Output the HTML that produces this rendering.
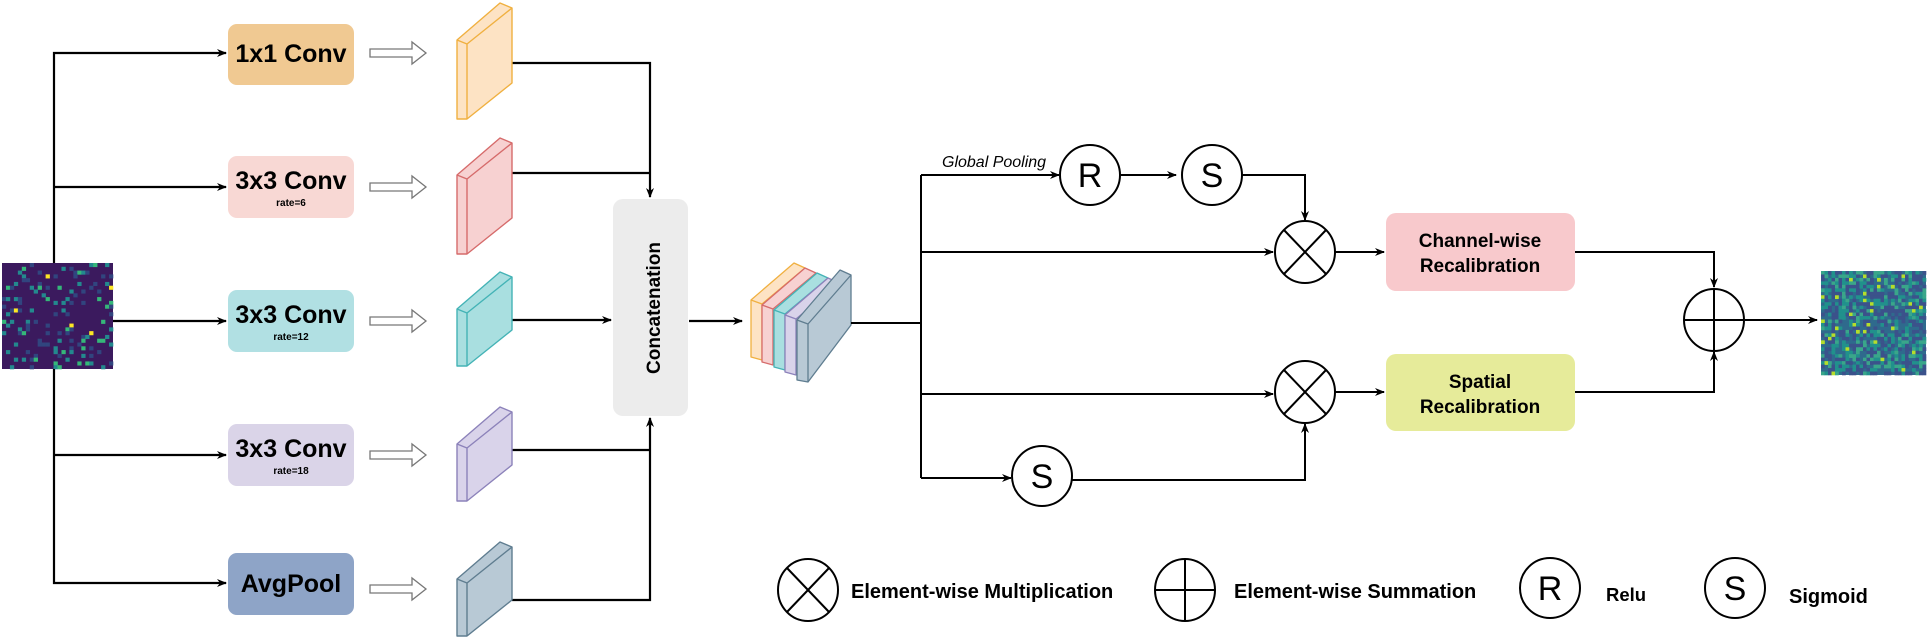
<!DOCTYPE html>
<html><head><meta charset="utf-8"><style>
html,body{margin:0;padding:0;background:#fff;}
svg{display:block;font-family:"Liberation Sans",Arial,sans-serif;}
</style></head><body>
<svg id="s" width="1930" height="642" viewBox="0 0 1930 642" xmlns="http://www.w3.org/2000/svg">
<defs>
<marker id="a" markerWidth="10" markerHeight="10" refX="9" refY="5" orient="auto" markerUnits="userSpaceOnUse"><path d="M0,1 L10,5 L0,9 L3,5 z" fill="#000"/></marker>
</defs>
<g id="inimg"><rect x="2" y="263" width="111" height="106" fill="#3b1a5e"/></g>
<g id="outimg"><rect x="1821" y="271" width="105" height="104" fill="#2f6a8d"/></g>

<g stroke="#000" stroke-width="2.2" fill="none">
<path d="M54,263 V53 H226" marker-end="url(#a)"/>
<path d="M54,187 H226" marker-end="url(#a)"/>
<path d="M113,321 H226" marker-end="url(#a)"/>
<path d="M54,369 V583 H226" marker-end="url(#a)"/>
<path d="M54,455 H226" marker-end="url(#a)"/>
<path d="M512,63 H650 V197" marker-end="url(#a)"/>
<path d="M512,173 H650"/>
<path d="M512,320 H611" marker-end="url(#a)"/>
<path d="M512,450 H650"/>
<path d="M512,600 H650 V418" marker-end="url(#a)"/>
<path d="M689,321 H742" marker-end="url(#a)"/>
</g>

<g font-weight="bold" text-anchor="middle">
<rect x="228" y="24" width="126" height="61" rx="9" fill="#f0c992"/>
<text x="291" y="62" font-size="25">1x1 Conv</text>
<rect x="228" y="156" width="126" height="62" rx="9" fill="#f8d8d4"/>
<text x="291" y="189" font-size="25">3x3 Conv</text><text x="291" y="206" font-size="10">rate=6</text>
<rect x="228" y="290" width="126" height="62" rx="9" fill="#b1e0e3"/>
<text x="291" y="323" font-size="25">3x3 Conv</text><text x="291" y="340" font-size="10">rate=12</text>
<rect x="228" y="424" width="126" height="62" rx="9" fill="#dad4e8"/>
<text x="291" y="457" font-size="25">3x3 Conv</text><text x="291" y="474" font-size="10">rate=18</text>
<rect x="228" y="553" width="126" height="62" rx="9" fill="#8ea4c7"/>
<text x="291" y="592" font-size="25">AvgPool</text>
</g>

<g fill="#fff" stroke="#777" stroke-width="1.3">
<path d="M370,49 H412 V42 L426,53 L412,64 V57 H370 z"/>
<path d="M370,183 H412 V176 L426,187 L412,198 V191 H370 z"/>
<path d="M370,317 H412 V310 L426,321 L412,332 V325 H370 z"/>
<path d="M370,451 H412 V444 L426,455 L412,466 V459 H370 z"/>
<path d="M370,585 H412 V578 L426,589 L412,600 V593 H370 z"/>
</g>

<g stroke-width="1.4" stroke-linejoin="round">
<g fill="#fde3c4" stroke="#f0b040" transform="translate(0,51)"><path d="M457,68 L457,-11 L500,-48 L512,-43 L512,32 L467,68 z"/><path d="M457,-11 L467,-7 L512,-43 M467,-7 V68" fill="none"/></g>
<g fill="#f7d1d1" stroke="#d66b6b" transform="translate(0,186)"><path d="M457,68 L457,-11 L500,-48 L512,-43 L512,32 L467,68 z"/><path d="M457,-11 L467,-7 L512,-43 M467,-7 V68" fill="none"/></g>
<g fill="#a9dfe0" stroke="#44b3b6" transform="translate(0,320)"><path d="M457,46 L457,-11 L500,-48 L512,-43 L512,10 L467,46 z"/><path d="M457,-11 L467,-7 L512,-43 M467,-7 V46" fill="none"/></g>
<g fill="#d9d3ea" stroke="#8c82ba" transform="translate(0,455)"><path d="M457,46 L457,-11 L500,-48 L512,-43 L512,10 L467,46 z"/><path d="M457,-11 L467,-7 L512,-43 M467,-7 V46" fill="none"/></g>
<g fill="#b8c9d5" stroke="#5f7d90" transform="translate(0,590)"><path d="M457,46 L457,-11 L500,-48 L512,-43 L512,10 L467,46 z"/><path d="M457,-11 L467,-7 L512,-43 M467,-7 V46" fill="none"/></g>
</g>

<rect x="613" y="199" width="75" height="217" rx="10" fill="#ececec"/>
<text transform="translate(660,308) rotate(-90)" text-anchor="middle" font-size="19" font-weight="bold">Concatenation</text>

<g stroke-width="1.3" stroke-linejoin="round">
<g fill="#fde3c4" stroke="#f0b040" transform="translate(751,300)"><path d="M0,57 L0,0 L43,-37 L54,-32 L54,22 L11,60 z"/><path d="M0,0 L11,4 L54,-32 M11,4 V60" fill="none"/></g>
<g fill="#f7d1d1" stroke="#d66b6b" transform="translate(762,305)"><path d="M0,57 L0,0 L43,-37 L54,-32 L54,22 L11,60 z"/><path d="M0,0 L11,4 L54,-32 M11,4 V60" fill="none"/></g>
<g fill="#a9dfe0" stroke="#44b3b6" transform="translate(774,310)"><path d="M0,57 L0,0 L43,-37 L54,-32 L54,22 L11,60 z"/><path d="M0,0 L11,4 L54,-32 M11,4 V60" fill="none"/></g>
<g fill="#d9d3ea" stroke="#8c82ba" transform="translate(785,315)"><path d="M0,57 L0,0 L43,-37 L54,-32 L54,22 L11,60 z"/><path d="M0,0 L11,4 L54,-32 M11,4 V60" fill="none"/></g>
<g fill="#b8c9d5" stroke="#5f7d90" transform="translate(797,320)"><path d="M0,60 L0,0 L43,-50 L54,-45 L54,5 L11,62 z"/><path d="M0,0 L11,4 L54,-45 M11,4 V62" fill="none"/></g>
</g>

<g stroke="#000" stroke-width="2" fill="none">
<path d="M851,323 H921"/>
<path d="M921,175 V478"/>
<path d="M921,175 H1059" marker-end="url(#a)"/>
<path d="M1121,175 H1176" marker-end="url(#a)"/>
<path d="M1238,175 H1305 V220" marker-end="url(#a)"/>
<path d="M921,252 H1273" marker-end="url(#a)"/>
<path d="M1335,252 H1384" marker-end="url(#a)"/>
<path d="M921,394 H1273" marker-end="url(#a)"/>
<path d="M1335,392 H1384" marker-end="url(#a)"/>
<path d="M921,478 H1011" marker-end="url(#a)"/>
<path d="M1072,480 H1305 V424" marker-end="url(#a)"/>
<path d="M1575,252 H1714 V287" marker-end="url(#a)"/>
<path d="M1575,392 H1714 V352" marker-end="url(#a)"/>
<path d="M1745,320 H1817" marker-end="url(#a)"/>
</g>
<text x="942" y="167" font-size="16" font-style="italic">Global Pooling</text>

<g stroke="#000" stroke-width="2" fill="#fff">
<circle cx="1090" cy="175" r="30"/>
<circle cx="1212" cy="175" r="30"/>
<ellipse cx="1305" cy="252" rx="30" ry="31"/>
<ellipse cx="1305" cy="392" rx="30" ry="31"/>
<ellipse cx="1714" cy="320" rx="30" ry="31"/>
<circle cx="1042" cy="476" r="30"/>
</g>
<g stroke="#000" stroke-width="2">
<path d="M1284,230 L1326,274 M1326,230 L1284,274"/>
<path d="M1284,370 L1326,414 M1326,370 L1284,414"/>
<path d="M1684,320 H1744 M1714,289 V351"/>
</g>
<g font-size="34" text-anchor="middle">
<text x="1090" y="187">R</text><text x="1212" y="187">S</text><text x="1042" y="488">S</text>
</g>

<rect x="1386" y="213" width="189" height="78" rx="10" fill="#f8c9cc"/>
<rect x="1386" y="354" width="189" height="77" rx="10" fill="#e6eb9a"/>
<g font-weight="bold" font-size="19" text-anchor="middle">
<text x="1480" y="247">Channel-wise</text><text x="1480" y="272">Recalibration</text>
<text x="1480" y="388">Spatial</text><text x="1480" y="413">Recalibration</text>
</g>

<g stroke="#000" stroke-width="2" fill="#fff">
<ellipse cx="808" cy="590" rx="30" ry="31"/>
<ellipse cx="1185" cy="590" rx="30" ry="31"/>
<circle cx="1550" cy="588" r="30"/>
<circle cx="1735" cy="588" r="30"/>
<path d="M787,568 L829,612 M829,568 L787,612 M1155,590 H1215 M1185,559 V621"/>
</g>
<g font-weight="bold" font-size="20">
<text x="851" y="598">Element-wise Multiplication</text>
<text x="1234" y="598">Element-wise Summation</text>
<text x="1606" y="601" font-size="18.5">Relu</text>
<text x="1789" y="603">Sigmoid</text>
</g>
<g font-size="34" text-anchor="middle"><text x="1550" y="600">R</text><text x="1735" y="600">S</text></g>
</svg>
<script>
(function(){
var ns="http://www.w3.org/2000/svg";
var seed=7;function r(){seed=(seed*9301+49297)%233280;return seed/233280;}
function grid(id,x0,y0,w,h,n,pal){
 var g=document.getElementById(id),cw=w/n,ch=h/n;
 for(var i=0;i<n;i++)for(var j=0;j<n;j++){
  var c=pal(r(),i,j);if(!c)continue;
  var e=document.createElementNS(ns,"rect");
  e.setAttribute("x",(x0+j*cw).toFixed(2));e.setAttribute("y",(y0+i*ch).toFixed(2));
  e.setAttribute("width",(cw+0.3).toFixed(2));e.setAttribute("height",(ch+0.3).toFixed(2));
  e.setAttribute("fill",c);g.appendChild(e);}
}
grid("inimg",2,263,111,106,28,function(v){
 if(v<0.8)return null; if(v<0.9)return "#31457f"; if(v<0.96)return "#23898e"; if(v<0.99)return "#35b779";return "#fde725";});
grid("outimg",1821,271,105,104,30,function(v){
 if(v<0.3)return "#3b528b"; if(v<0.6)return null; if(v<0.82)return "#21918c"; if(v<0.96)return "#3aa68a";return "#b5de2b";});
})();
</script>
</body></html>
